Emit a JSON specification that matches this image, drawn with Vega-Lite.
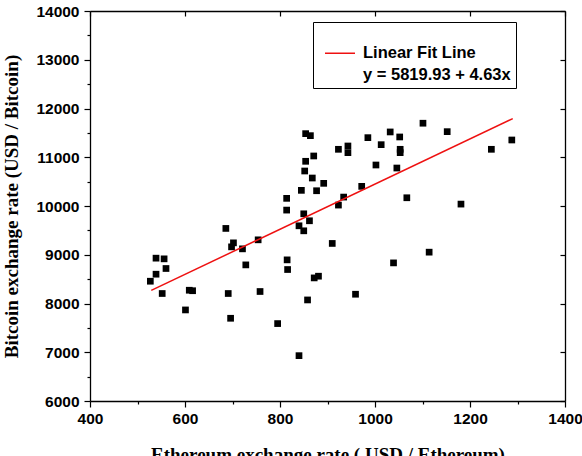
{
  "$schema": "https://vega.github.io/schema/vega-lite/v6.json",
  "width": 475,
  "height": 390,
  "autosize": "none",
  "padding": {"left": 90, "top": 11, "right": 17, "bottom": 55},
  "background": "white",
  "config": {
    "view": {"stroke": null},
    "axis": {
      "grid": false,
      "format": "d",
      "labelFont": "Liberation Sans",
      "labelFontWeight": "bold",
      "labelFontSize": 15.5,
      "labelColor": "black",
      "titleFont": "Liberation Serif",
      "titleFontWeight": "bold",
      "titleFontSize": 19,
      "titleColor": "black",
      "domainColor": "black",
      "domainWidth": 1.3,
      "tickColor": "black",
      "tickWidth": 1.2,
      "labelFlush": false,
      "labelOverlap": false
    },
    "legend": {
      "orient": "none",
      "legendX": 223,
      "legendY": 11,
      "padding": 5,
      "strokeColor": "black",
      "fillColor": "white",
      "titleFontSize": 14,
      "titlePadding": 4,
      "rowPadding": 4.25,
      "labelFont": "Liberation Sans",
      "labelFontWeight": "bold",
      "labelFontSize": 16.5,
      "labelColor": "black",
      "labelLimit": 400,
      "symbolType": "M-3,0H3",
      "symbolSize": 100,
      "symbolStrokeWidth": 1.5,
      "symbolOffset": 13.75,
      "labelOffset": 14.75
    }
  },
  "datasets": {
    "pts": [
      {"eth": 527, "btc": 8457}, {"eth": 539, "btc": 8601}, {"eth": 539, "btc": 8930},
      {"eth": 556, "btc": 8916}, {"eth": 560, "btc": 8718}, {"eth": 552, "btc": 8205},
      {"eth": 601, "btc": 7868}, {"eth": 609, "btc": 8272}, {"eth": 616, "btc": 8262},
      {"eth": 686, "btc": 9540}, {"eth": 702, "btc": 9244}, {"eth": 698, "btc": 9162},
      {"eth": 691, "btc": 8205}, {"eth": 696, "btc": 7697}, {"eth": 721, "btc": 9121},
      {"eth": 728, "btc": 8792}, {"eth": 754, "btc": 9306}, {"eth": 758, "btc": 8246},
      {"eth": 795, "btc": 7588}, {"eth": 814, "btc": 10157}, {"eth": 814, "btc": 9916},
      {"eth": 815, "btc": 8895}, {"eth": 816, "btc": 8697}, {"eth": 845, "btc": 10321},
      {"eth": 850, "btc": 9840}, {"eth": 840, "btc": 9594}, {"eth": 850, "btc": 9491},
      {"eth": 862, "btc": 9697}, {"eth": 854, "btc": 11484}, {"eth": 864, "btc": 11443},
      {"eth": 871, "btc": 11026}, {"eth": 854, "btc": 10917}, {"eth": 852, "btc": 10718},
      {"eth": 868, "btc": 10574}, {"eth": 877, "btc": 10313}, {"eth": 892, "btc": 10465},
      {"eth": 858, "btc": 8073}, {"eth": 872, "btc": 8525}, {"eth": 881, "btc": 8560},
      {"eth": 910, "btc": 9232}, {"eth": 923, "btc": 11163}, {"eth": 943, "btc": 11231},
      {"eth": 943, "btc": 11094}, {"eth": 923, "btc": 10019}, {"eth": 934, "btc": 10183},
      {"eth": 959, "btc": 8190}, {"eth": 972, "btc": 10403}, {"eth": 985, "btc": 11402},
      {"eth": 1002, "btc": 10841}, {"eth": 1013, "btc": 11258}, {"eth": 1032, "btc": 11519},
      {"eth": 1039, "btc": 8833}, {"eth": 1046, "btc": 10779}, {"eth": 1052, "btc": 11416},
      {"eth": 1053, "btc": 11163}, {"eth": 1053, "btc": 11094}, {"eth": 1067, "btc": 10169},
      {"eth": 1101, "btc": 11698}, {"eth": 1114, "btc": 9053}, {"eth": 1152, "btc": 11525},
      {"eth": 1181, "btc": 10039}, {"eth": 1245, "btc": 11163}, {"eth": 1288, "btc": 11354},
      {"eth": 840, "btc": 6930}
    ],
    "fit": [
      {"eth": 529, "btc": 8269.2, "series": "Linear Fit Line"},
      {"eth": 1290, "btc": 11792.6, "series": "Linear Fit Line"}
    ]
  },
  "layer": [
    {
      "data": {"name": "pts"},
      "mark": {"type": "square", "size": 45, "color": "black", "opacity": 1},
      "encoding": {
        "x": {
          "field": "eth", "type": "quantitative",
          "scale": {"domain": [400, 1400], "nice": false, "zero": false},
          "axis": {
            "orient": "bottom",
            "values": [400, 600, 800, 1000, 1200, 1400],
            "title": "Ethereum exchange rate ( USD / Ethereum)",
            "tickSize": 6, "labelPadding": 4, "titlePadding": 19
          }
        },
        "y": {
          "field": "btc", "type": "quantitative",
          "scale": {"domain": [6000, 14000], "nice": false, "zero": false},
          "axis": {
            "orient": "left",
            "values": [6000, 7000, 8000, 9000, 10000, 11000, 12000, 13000, 14000],
            "title": "Bitcoin exchange rate (USD / Bitcoin)",
            "tickSize": 6, "labelPadding": 5, "titlePadding": 14
          }
        }
      }
    },
    {
      "data": {"name": "fit"},
      "mark": {"type": "line", "strokeWidth": 1.5},
      "encoding": {
        "x": {
          "field": "eth", "type": "quantitative",
          "axis": {"orient": "top", "values": [400, 600, 800, 1000, 1200, 1400], "labels": false, "title": null, "tickSize": -5}
        },
        "y": {
          "field": "btc", "type": "quantitative",
          "axis": {"orient": "right", "values": [6000, 7000, 8000, 9000, 10000, 11000, 12000, 13000, 14000], "labels": false, "title": null, "tickSize": -5}
        },
        "stroke": {
          "field": "series", "type": "nominal",
          "scale": {"domain": ["Linear Fit Line", "y = 5819.93 + 4.63x   "], "range": ["#ee1111", "transparent"]},
          "legend": {"title": " "}
        }
      }
    },
    {
      "data": {"name": "pts"},
      "mark": {"type": "point", "opacity": 0},
      "encoding": {
        "x": {
          "field": "eth", "type": "quantitative",
          "axis": {"orient": "bottom", "values": [500, 700, 900, 1100, 1300], "labels": false, "title": null, "domain": false, "tickSize": 3}
        },
        "y": {
          "field": "btc", "type": "quantitative",
          "axis": {"orient": "left", "values": [6500, 7500, 8500, 9500, 10500, 11500, 12500, 13500], "labels": false, "title": null, "domain": false, "tickSize": 3}
        }
      }
    }
  ],
  "resolve": {"axis": {"x": "independent", "y": "independent"}}
}
